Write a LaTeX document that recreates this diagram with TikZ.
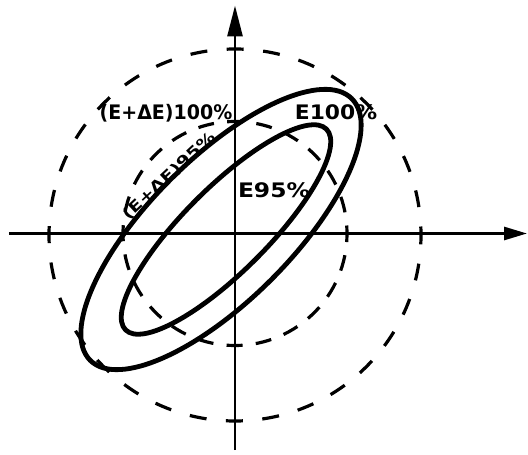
\documentclass[tikz,border=0pt]{standalone}
\usepackage{fontspec}
\usepackage{graphicx}
\setmainfont{DejaVu Sans}
\usetikzlibrary{arrows.meta}
\begin{document}
\begin{tikzpicture}[x=1pt,y=1pt,
  axis/.style={line width=2.8pt},
  curve/.style={line width=4.8pt},
  bigdash/.style={line width=3.2pt, dash pattern=on 17pt off 19.5pt, dash phase=8.5pt},
  smalldash/.style={line width=3.2pt, dash pattern=on 16pt off 13.3pt, dash phase=8pt},
  lab/.style={inner sep=0pt, font=\bfseries\fontsize{20}{24}\selectfont}]
\useasboundingbox (-235,-221.5) rectangle (293,233.5);
\coordinate (O) at (0,0);
\coordinate (xl) at (-226,0);
\coordinate (xr) at (292,0);
\coordinate (yb) at (0,-216.5);
\coordinate (yt) at (0,228);
\coordinate (bc) at (0,-1.5);
\coordinate (oc) at (-14,4);
\coordinate (ic) at (-9,4);
\draw[axis, -{Triangle[length=23pt,width=13pt]}] (xl) -- (xr);
\draw[axis, -{Triangle[length=31pt,width=15pt]}] (yb) -- (yt);
\draw[bigdash] (bc) circle [radius=186pt];
\draw[smalldash] (O) circle [radius=112pt];
\draw[curve, rotate around={45:(oc)}] (oc) ellipse [x radius=185pt, y radius=71pt];
\draw[curve, rotate around={45:(ic)}] (ic) ellipse [x radius=142pt, y radius=42pt];
\node[lab] (l1) at (-69,120.5) {\scalebox{0.95}[1]{(E+ΔE)100\%}};
\node[lab] (l2) at (101,121.5) {\scalebox{1.09}[1]{E100\%}};
\node[lab] (l3) at (39,43.5) {\scalebox{1.17}[1]{E95\%}};
\node[lab, font=\bfseries\fontsize{15}{18}\selectfont, rotate=43] (l4) at (-66,57.5) {\scalebox{1.27}[1]{(E+ΔE)95\%}};
\end{tikzpicture}
\end{document}
